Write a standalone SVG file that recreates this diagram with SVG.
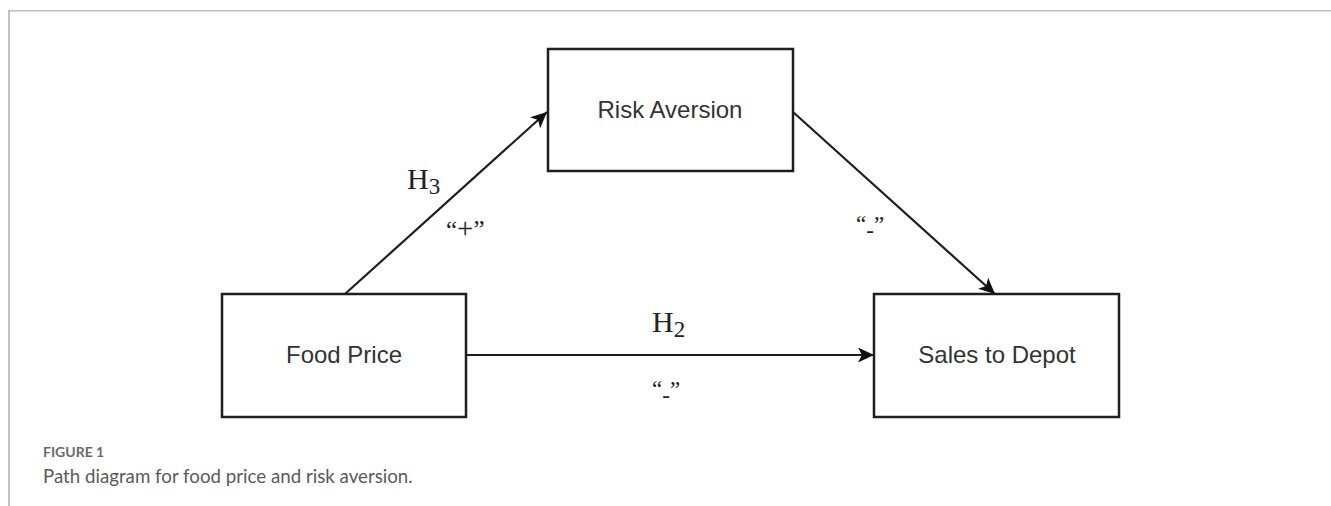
<svg xmlns="http://www.w3.org/2000/svg" width="1331" height="506" viewBox="0 0 1331 506">
<style>
.box{fill:#fff;stroke:#1e1e1e;stroke-width:2.5}
.nt{font-family:"Liberation Sans",Arial,sans-serif;font-size:24px;fill:#333;text-anchor:middle}
.edge{stroke:#1e1e1e;stroke-width:2.2;fill:none}
.lbl{font-family:"Liberation Serif","Times New Roman",serif;fill:#222}
.cap1{font-family:Lato,"Open Sans",sans-serif;font-size:14px;font-weight:bold;fill:#6a6a6a}
.cap2{font-family:Lato,"Open Sans",sans-serif;font-size:18.7px;fill:#5a5a5a}
</style>
<defs>
<marker id="ah" markerUnits="userSpaceOnUse" markerWidth="17" markerHeight="15" refX="16" refY="7.5" orient="auto">
<path d="M0,0 L16,7.5 L0,15 L4,7.5 Z" fill="#111"/>
</marker>
</defs>
<g id="frame">
<line x1="9" y1="10.8" x2="1331" y2="10.8" stroke="#bdbdbd" stroke-width="1.6"/>
<line x1="9" y1="10" x2="9" y2="506" stroke="#9a9a9a" stroke-width="1.2"/>
</g>
<g id="connectors">
<line class="edge" x1="345" y1="294" x2="547" y2="112" marker-end="url(#ah)"/>
<line class="edge" x1="793" y1="112" x2="995" y2="294" marker-end="url(#ah)"/>
<line class="edge" x1="466" y1="355" x2="874" y2="355" marker-end="url(#ah)"/>
<text class="lbl" x="407" y="189" font-size="30">H<tspan font-size="23" dy="5">3</tspan></text>
<text class="lbl" x="446" y="238" font-size="25">“<tspan font-size="29">+</tspan>”</text>
<text class="lbl" x="856" y="232" font-size="23">“<tspan dy="6">-</tspan><tspan dy="-6">”</tspan></text>
<text class="lbl" x="652" y="332" font-size="30">H<tspan font-size="23" dy="5">2</tspan></text>
<text class="lbl" x="652" y="397" font-size="23">“<tspan dy="6">-</tspan><tspan dy="-6">”</tspan></text>
</g>
<g id="risk-aversion">
<rect class="box" x="548" y="49" width="245" height="122"/>
<text class="nt" x="670" y="118">Risk Aversion</text>
</g>
<g id="food-price">
<rect class="box" x="222" y="294" width="244" height="123"/>
<text class="nt" x="344" y="363">Food Price</text>
</g>
<g id="sales-to-depot">
<rect class="box" x="874" y="294" width="245" height="123"/>
<text class="nt" x="997" y="363">Sales to Depot</text>
</g>
<g id="caption">
<text class="cap1" x="43" y="457">FIGURE 1</text>
<text class="cap2" x="43" y="483">Path diagram for food price and risk aversion.</text>
</g>
</svg>
